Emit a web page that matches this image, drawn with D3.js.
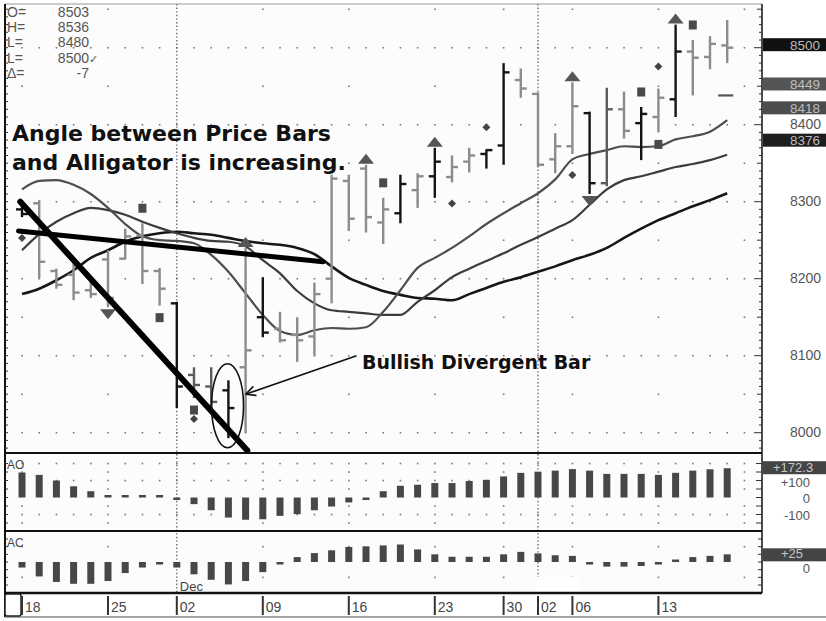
<!DOCTYPE html>
<html><head><meta charset="utf-8">
<script src="https://cdn.jsdelivr.net/npm/d3@7"></script>
<style>
body{margin:0;background:#fff;}
svg{display:block;font-family:"Liberation Sans",Arial,sans-serif;}
</style></head><body>
<svg id="c" width="826" height="621"></svg>
<script>
// ---------------- DATA ----------------
const dates = ["2002-11-18","2002-11-19","2002-11-20","2002-11-21","2002-11-22","2002-11-25","2002-11-26","2002-11-27","2002-11-29",
"2002-12-02","2002-12-03","2002-12-04","2002-12-05","2002-12-06","2002-12-09","2002-12-10","2002-12-11","2002-12-12","2002-12-13",
"2002-12-16","2002-12-17","2002-12-18","2002-12-19","2002-12-20","2002-12-23","2002-12-24","2002-12-26","2002-12-27","2002-12-30","2002-12-31",
"2003-01-02","2003-01-03","2003-01-06","2003-01-07","2003-01-08","2003-01-09","2003-01-10","2003-01-13","2003-01-14","2003-01-15","2003-01-16","2003-01-17"];
const opens  = [8290,8298,8210,8205,8185,8225,8226,8256,8210,8168,8075,8060,8055,8085,8150,8135,8127,8125,8200,8327,8343,8273,8285,8315,8333,8332,8352,8362,8373,8458,8440,8355,8372,8415,8324,8420,8402,8410,8433,8495,8488,8503];
const highs  = [8302,8302,8213,8220,8197,8237,8265,8272,8214,8170,8085,8085,8068,8240,8202,8157,8150,8195,8335,8335,8348,8305,8335,8337,8370,8360,8370,8368,8480,8473,8442,8389,8455,8417,8448,8443,8423,8447,8530,8510,8515,8536];
const lows   = [8280,8200,8187,8172,8175,8163,8225,8193,8165,8032,8045,8030,7993,8000,8124,8117,8092,8100,8168,8262,8260,8245,8272,8292,8305,8325,8338,8343,8348,8435,8345,8337,8362,8310,8320,8382,8354,8390,8410,8438,8472,8480];
const closes = [8284,8222,8192,8182,8180,8175,8255,8210,8187,8060,8062,8040,8032,8107,8130,8120,8120,8180,8330,8278,8280,8290,8323,8333,8352,8345,8360,8367,8468,8447,8348,8372,8424,8324,8420,8392,8414,8435,8495,8487,8505,8500];
const barTone = ["k","g","g","g","g","g","g","g","g","k","d","d","k","g","k","g","g","g","g","g","g","g","k","g","k","g","g","k","k","g","g","g","g","k","d","g","k","g","k","g","g","g"];
// Alligator (lips / teeth / jaw)
const lips  = [8316,8327,8328,8322,8310,8292,8271,8255,8250,8249,8246,8231,8209,8181,8153,8132,8127,8133,8136,8135,8137,8157,8185,8214,8227,8240,8255,8271,8285,8298,8311,8329,8355,8362,8367,8372,8371,8372,8381,8385,8391,8406];
const teeth = [8237,8258,8274,8285,8292,8289,8283,8274,8266,8259,8253,8249,8248,8242,8224,8207,8184,8168,8159,8157,8155,8153,8153,8170,8185,8202,8213,8223,8233,8244,8254,8265,8276,8296,8316,8328,8333,8339,8345,8349,8354,8361];
const jaw   = [8180,8187,8198,8211,8227,8237,8248,8255,8259,8261,8259,8257,8253,8249,8246,8244,8240,8232,8216,8201,8192,8184,8179,8175,8174,8172,8180,8188,8196,8202,8209,8216,8224,8231,8240,8253,8265,8276,8285,8294,8302,8311];
// Awesome Oscillator & Accelerator Oscillator
const ao = [147,133,100,66,37,10,5,8,4,-4,-39,-75,-118,-131,-128,-108,-98,-75,-53,-29,-6,37,69,75,85,85,97,104,124,145,152,158,167,158,139,139,139,133,145,158,166,172.3];
const ac = [-18,-47,-65,-71,-71,-62,-36,-18,-8,-18,-40,-58,-73,-62,-33,-2,16,29,38,49,51,54,57,41,25,17,17,17,25,33,28,22,20,-2,-15,-15,-13,-8,5,16,20,25];
// markers (bar index)
const fractalUp = [13,20,24,32,38];
const fractalDown = [5,33];
const squaresAbove = [7,21,36,39];
const squaresBelow = [8,10,37];
const diamondsAbove = [27,37];
const diamondsBelow = [0,10,25,32];
const dashMarks = [[41,8438]];
// axis labels
const weekTicks = ["2002-11-18","2002-11-25","2002-12-02","2002-12-09","2002-12-16","2002-12-23","2002-12-30","2003-01-02","2003-01-06","2003-01-13"];
const weekLabels = ["18","25","02","09","16","23","30","02","06","13"];
const monthStarts = ["2002-12-02","2003-01-02"];
const priceTicks = [8000,8100,8200,8300,8400];
const priceBoxes = [8500,8449,8418,8376];
const priceBoxFill = ["#111","#555","#4d4d4d","#1e1e1e"];
const aoTicks = [100,0,-100];
const infoLabels = ["O=","H=","L=","L=","\u0394="];
const infoValues = ["8503","8536","8480","8500","-7"];

// ---------------- LAYOUT ----------------
const svg = d3.select("#c");
const PL = 5, PR = 762, PT = 4, MB = 453;
const AOT = 455, AOB = 531, ACT = 533, ACB = 593, XB = 617;
const x = d3.scalePoint().domain(dates).range([22, 727.2]);
const step = x.step();
const xf = t => x(dates[0]) + t * step;
const y = d3.scaleLinear().domain([8000, 8500]).range([432.7, 47.7]);
const yAO = d3.scaleLinear().domain([0, 100]).range([497.5, 480.5]);
const yAC = d3.scaleLinear().domain([0, 100]).range([562, 531.3]);

const defs = svg.append("defs");
defs.append("clipPath").attr("id","cm").append("rect").attr("x",PL).attr("y",PT).attr("width",PR-PL).attr("height",MB-PT);

// background
svg.append("rect").attr("width",826).attr("height",621).attr("fill","#fff");
svg.append("rect").attr("x",PL).attr("y",PT).attr("width",PR-PL).attr("height",ACB-PT).attr("fill","#fcfcfc");

// ---------- grid dots ----------
const grid = svg.append("g").attr("fill","#7a7a7a");
const allX = dates.map(d => x(d)).concat([xf(dates.length)]);
const weekX = weekTicks.filter(d => monthStarts.indexOf(d) < 0).map(d => x(d)).concat([xf(dates.length)]);
function dotRow(yy, xs){ xs.forEach(xx => grid.append("rect").attr("x",xx-0.75).attr("y",yy-0.75).attr("width",1.6).attr("height",1.6)); }
for (let v = 8000; v <= 8550; v += 50) {
  const yy = y(v); if (yy < PT+2 || yy > MB-2) continue;
  dotRow(yy, v % 100 === 0 ? allX : weekX);
}
for (let v = -150; v <= 200; v += 50) {
  if (v === 0) continue;
  dotRow(yAO(v), v % 100 === 0 ? allX : weekX);
}
[-50, 50].forEach(v => dotRow(yAC(v), weekX));

// month separators
monthStarts.forEach(d => {
  svg.append("line").attr("x1",x(d)).attr("x2",x(d)).attr("y1",PT).attr("y2",ACB)
    .attr("stroke","#555").attr("stroke-width",1.2).attr("stroke-dasharray","1.4,2.2");
});
svg.append("rect").attr("x",x("2003-01-02")-1.5).attr("y",577).attr("width",42).attr("height",15).attr("fill","#fff");
svg.append("text").attr("x",x("2002-12-02")+3).attr("y",591).attr("font-size",13).attr("fill","#444").text("Dec");

// ---------- main panel ----------
const main = svg.append("g").attr("clip-path","url(#cm)");
const lineGen = arr => d3.line().x((d,i)=>x(dates[i])).y(d=>y(d)).curve(d3.curveMonotoneX)(arr);
main.append("path").attr("d",lineGen(jaw)).attr("fill","none").attr("stroke","#161616").attr("stroke-width",2.6);
main.append("path").attr("d",lineGen(teeth)).attr("fill","none").attr("stroke","#3c3c3c").attr("stroke-width",2.2);
main.append("path").attr("d",lineGen(lips)).attr("fill","none").attr("stroke","#4e4e4e").attr("stroke-width",2.2);

const toneColor = {k:"#141414", g:"#8c8c8c", d:"#5c5c5c"};
dates.forEach((d,i) => {
  const g = main.append("g").attr("stroke",toneColor[barTone[i]]).attr("stroke-width",2.4);
  const xx = x(d);
  g.append("line").attr("x1",xx).attr("x2",xx).attr("y1",y(highs[i])).attr("y2",y(lows[i]));
  g.append("line").attr("x1",xx-6).attr("x2",xx).attr("y1",y(opens[i])).attr("y2",y(opens[i]));
  g.append("line").attr("x1",xx).attr("x2",xx+6).attr("y1",y(closes[i])).attr("y2",y(closes[i]));
});

// markers
const mk = main.append("g").attr("fill","#4a4a4a");
fractalUp.forEach(i => { const xx=x(dates[i]), yy=y(highs[i]);
  mk.append("path").attr("d",`M${xx-8},${yy-1}L${xx+8},${yy-1}L${xx},${yy-11}Z`).attr("fill","#555"); });
fractalDown.forEach(i => { const xx=x(dates[i]), yy=y(lows[i]);
  mk.append("path").attr("d",`M${xx-8},${yy+2}L${xx+8},${yy+2}L${xx},${yy+12}Z`).attr("fill","#555"); });
const sq = (xx,yy) => mk.append("rect").attr("x",xx-4).attr("y",yy-4.5).attr("width",8).attr("height",9).attr("fill","#4a4a4a");
squaresAbove.forEach(i => sq(x(dates[i]), y(highs[i])-15));
squaresBelow.forEach(i => sq(x(dates[i]), y(lows[i])+12));
const dm = (xx,yy) => mk.append("path").attr("d",`M${xx},${yy-4}L${xx+4},${yy}L${xx},${yy+4}L${xx-4},${yy}Z`).attr("fill","#444");
diamondsAbove.forEach(i => dm(x(dates[i]), y(highs[i])-22));
diamondsBelow.forEach(i => dm(x(dates[i]), y(lows[i])+21));
dashMarks.forEach(([i,v]) => main.append("line").attr("x1",x(dates[i])-9).attr("x2",x(dates[i])+6)
  .attr("y1",y(v)).attr("y2",y(v)).attr("stroke","#555").attr("stroke-width",2.2));

// trend lines (annotation, in data coords)
const trendLines = [[[-0.1,8300],[13.1,7977]],[[-0.2,8262],[17.5,8222]]];
const trendWidths = [6,5];
trendLines.forEach((tl,k) => main.append("line")
  .attr("x1",xf(tl[0][0])).attr("y1",y(tl[0][1])).attr("x2",xf(tl[1][0])).attr("y2",y(tl[1][1]))
  .attr("stroke","#000").attr("stroke-width",trendWidths[k]).attr("stroke-linecap","round"));

// ellipse + arrow
main.append("ellipse").attr("cx",xf(11.95)).attr("cy",y(8035)).attr("rx",16).attr("ry",42)
  .attr("fill","none").attr("stroke","#111").attr("stroke-width",1.6);
const ax1 = xf(19.45), ay1 = y(8100), ax2 = xf(13.0), ay2 = y(8050);
main.append("line").attr("x1",ax1).attr("y1",ay1).attr("x2",ax2).attr("y2",ay2).attr("stroke","#111").attr("stroke-width",1.6);
const ang = Math.atan2(ay1-ay2, ax1-ax2);
[0.45,-0.45].forEach(da => main.append("line").attr("x1",ax2).attr("y1",ay2)
  .attr("x2",ax2+11*Math.cos(ang+da)).attr("y2",ay2+11*Math.sin(ang+da)).attr("stroke","#111").attr("stroke-width",1.6));

// annotation texts
const bold = "DejaVu Sans, Verdana, sans-serif";
main.append("text").attr("x",12).attr("y",141).attr("font-family",bold).attr("font-weight","bold").attr("font-size",22).attr("fill","#111").text("Angle between Price Bars");
main.append("text").attr("x",12).attr("y",170).attr("font-family",bold).attr("font-weight","bold").attr("font-size",22).attr("fill","#111").text("and Alligator is increasing.");
main.append("text").attr("x",362).attr("y",369).attr("font-family",bold).attr("font-weight","bold").attr("font-size",19).attr("fill","#111").text("Bullish Divergent Bar");

// info block
infoLabels.forEach((t,i) => {
  const yy = 17 + i*15.2;
  svg.append("text").attr("x",7).attr("y",yy).attr("font-size",14).attr("fill","#555").text(t);
  svg.append("text").attr("x",89).attr("y",yy).attr("font-size",14).attr("fill","#555").attr("text-anchor","end").text(infoValues[i]);
});
svg.append("text").attr("x",89).attr("y",17+3*15.2).attr("font-size",11).attr("fill","#555").text("\u2713");

// ---------- AO / AC panels ----------
const barW = 7;
ao.forEach((v,i) => {
  const y0 = yAO(0), y1 = yAO(v);
  let top = Math.min(y0,y1), h = Math.abs(y1-y0);
  if (h < 2.5) { top = (v>=0? y0-2.5 : y0); h = 2.5; }
  svg.append("rect").attr("x",x(dates[i])-barW/2).attr("y",top).attr("width",barW).attr("height",h).attr("fill","#474747");
});
ac.forEach((v,i) => {
  const y0 = yAC(0), y1 = yAC(v);
  let top = Math.min(y0,y1), h = Math.abs(y1-y0);
  if (h < 2.5) { top = (v>=0? y0-2.5 : y0); h = 2.5; }
  svg.append("rect").attr("x",x(dates[i])-barW/2).attr("y",top).attr("width",barW).attr("height",h).attr("fill","#474747");
});
svg.append("text").attr("x",7).attr("y",469).attr("font-size",12).attr("fill","#444").text("AO");
svg.append("text").attr("x",7).attr("y",547).attr("font-size",12).attr("fill","#444").text("AC");

// ---------- frames ----------
const fr = svg.append("g").attr("stroke","#111");
fr.append("line").attr("x1",PL).attr("x2",PR).attr("y1",PT).attr("y2",PT).attr("stroke","#999").attr("stroke-width",1.2);
[[MB,2.2],[AOB,2.2],[ACB,2.4]].forEach(([yy,w]) => fr.append("line").attr("x1",PL).attr("x2",PR).attr("y1",yy).attr("y2",yy).attr("stroke-width",w));
fr.append("line").attr("x1",PL).attr("x2",PL).attr("y1",PT).attr("y2",XB).attr("stroke-width",2);
fr.append("line").attr("x1",PR).attr("x2",PR).attr("y1",PT).attr("y2",ACB).attr("stroke-width",1.5);
fr.append("line").attr("x1",PL).attr("x2",826).attr("y1",XB).attr("y2",XB).attr("stroke","#888").attr("stroke-width",1.5);
svg.append("rect").attr("x",PL).attr("y",ACB+1).attr("width",16).attr("height",XB-ACB-2).attr("rx",2)
  .attr("fill","#fff").attr("stroke","#222").attr("stroke-width",1.5);

// axis ticks (right and left edges)
const tk = svg.append("g").attr("stroke","#333").attr("stroke-width",1);
for (let v = 7950; v <= 8560; v += 10) {
  const yy = y(v); if (yy < PT+1 || yy > MB-1) continue;
  const len = v % 100 === 0 ? 8 : (v % 50 === 0 ? 5 : 3);
  tk.append("line").attr("x1",PR-len).attr("x2",PR).attr("y1",yy).attr("y2",yy);
  tk.append("line").attr("x1",PL).attr("x2",PL+3).attr("y1",yy).attr("y2",yy);
}
for (let v = -200; v <= 200; v += 50) {
  const yy = yAO(v); if (yy < AOT+2 || yy > AOB-2) continue;
  tk.append("line").attr("x1",PR-6).attr("x2",PR).attr("y1",yy).attr("y2",yy);
  tk.append("line").attr("x1",PL).attr("x2",PL+3).attr("y1",yy).attr("y2",yy);
}
for (let v = -100; v <= 100; v += 25) {
  const yy = yAC(v); if (yy < ACT+2 || yy > ACB-2) continue;
  tk.append("line").attr("x1",PR-4).attr("x2",PR).attr("y1",yy).attr("y2",yy);
  tk.append("line").attr("x1",PL).attr("x2",PL+3).attr("y1",yy).attr("y2",yy);
}

// right price labels
priceTicks.forEach(v => svg.append("text").attr("x",790).attr("y",y(v)+4.5).attr("font-size",14).attr("fill","#555").text(v));
priceBoxes.forEach((v,k) => {
  const yy = y(v) - 3;
  svg.append("rect").attr("x",PR+1).attr("y",yy-6.5).attr("width",826-PR).attr("height",13).attr("fill",priceBoxFill[k]);
  svg.append("text").attr("x",790).attr("y",yy+5).attr("font-size",13.5).attr("fill","#bdbdbd").text(v);
});
aoTicks.forEach(v => svg.append("text").attr("x",810).attr("y",yAO(v)+(v>0?6:5)).attr("font-size",13).attr("fill","#555").attr("text-anchor","end").text(v>0?"+"+v:v));
svg.append("text").attr("x",810).attr("y",yAC(0)+11).attr("font-size",13).attr("fill","#555").attr("text-anchor","end").text("0");
svg.append("rect").attr("x",PR+1).attr("y",yAO(ao[ao.length-1])-7).attr("width",826-PR).attr("height",13).attr("fill","#444");
svg.append("text").attr("x",773).attr("y",yAO(ao[ao.length-1])+4).attr("font-size",13).attr("fill","#c8c8c8").text("+"+ao[ao.length-1]);
svg.append("rect").attr("x",PR+1).attr("y",yAC(ac[ac.length-1])-6).attr("width",826-PR).attr("height",13).attr("fill","#444");
svg.append("text").attr("x",781).attr("y",yAC(ac[ac.length-1])+4).attr("font-size",13).attr("fill","#c8c8c8").text("+"+ac[ac.length-1]);

// x axis
weekTicks.forEach((d,k) => {
  const xx = x(d);
  svg.append("line").attr("x1",xx).attr("x2",xx).attr("y1",ACB+3).attr("y2",XB-2).attr("stroke","#333").attr("stroke-width",2);
  svg.append("text").attr("x",xx+3).attr("y",612).attr("font-size",14).attr("fill","#444").text(weekLabels[k]);
});
</script>
</body></html>
